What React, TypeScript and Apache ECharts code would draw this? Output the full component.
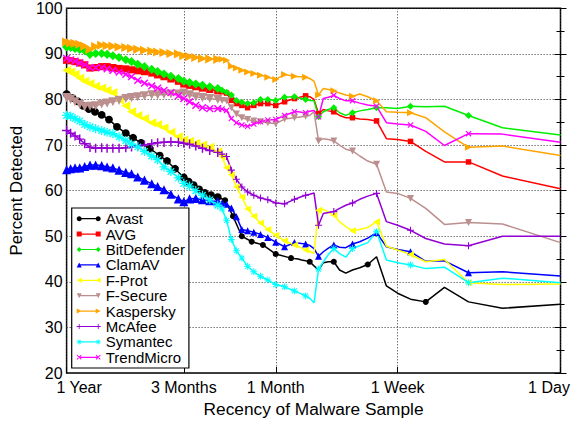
import React, { useEffect, useRef } from "react";
import * as echarts from "echarts";

// ---------- data ----------
const SERIES_NAMES = ["Avast", "AVG", "BitDefender", "ClamAV", "F-Prot", "F-Secure", "Kaspersky", "McAfee", "Symantec", "TrendMicro"];
const X_TICK_LABELS = ["1 Year", "3 Months", "1 Month", "1 Week", "1 Day"];
const X_TICK_DAYS = [365, 90, 30, 7, 1];
const Y_MIN = 20;
const Y_MAX = 100;
const Y_STEP = 10;

// sample age in days (x axis is log of age, most recent on the right)
const DAYS = [
  1, 2, 3, 4, 5, 6, 7, 8, 9, 10, 11, 12,
  13, 14, 15, 16, 17, 18, 19, 20, 21, 22, 23, 24,
  27, 30, 33, 36, 39, 42, 45, 48, 51, 54, 57, 60,
  66, 72, 78, 84, 90, 96,
  105, 114, 123, 132, 144, 156, 168, 180,
  195, 210, 225, 240,
  258, 276, 294, 312, 330, 348,
  365,
];
const AVAST_DAYS = [
  1, 2, 3, 4, 5, 6, 7, 8, 9, 10, 11, 12,
  13, 14, 15, 16, 17, 18, 19, 20, 21, 22, 23, 24, 25,
  30, 35, 40, 45, 50, 55, 60, 65, 70, 75, 80, 85, 90,
  100, 110, 120, 135, 150, 165, 180, 200, 220, 240, 260, 280, 300, 320, 340, 365,
];

const avast = [
  35.1, 34.2, 35.6, 38.8, 35.6, 36.2, 37.5, 39.1, 45.5, 43.8, 43.1, 42.6,
  41.9, 42.6, 44.4, 44.4, 44.2, 42.6, 43.5, 44.4, 44.6, 44.8, 45.0, 45.1, 45.2,
  46.1, 48.1, 48.8, 50.0, 54.4, 57.9, 58.6, 59.0, 59.5, 60.3, 61.2, 62.0, 62.9,
  64.8, 66.5, 67.7, 69.2, 70.5, 71.6, 72.6, 74.0, 75.6, 76.6, 77.3, 77.9, 78.6, 79.6, 80.3, 81.2,
];
const avg = [
  60.4, 63.2, 66.3, 66.3, 68.6, 70.8, 71.2, 71.4, 75.3, 75.6, 75.7, 76.0,
  76.0, 76.5, 77.3, 77.5, 77.8, 76.9, 80.0, 80.6, 80.8, 80.6, 80.4, 80.2,
  79.5, 78.7, 79.1, 79.1, 78.7, 78.2, 78.7, 79.1, 79.8, 81.4, 81.7, 81.9,
  82.2, 82.5, 82.8, 83.1, 83.4, 84.0,
  84.5, 85.0, 85.4, 85.8, 86.1, 86.3, 86.5, 86.7,
  86.8, 87.0, 87.2, 87.2,
  87.0, 86.9, 87.6, 88.0, 88.3, 88.5,
  88.6,
];
const bitDefender = [
  72.2, 73.8, 76.5, 78.5, 78.4, 78.5, 78.0, 78.2, 78.2, 77.8, 77.5, 77.1,
  76.5, 77.1, 78.2, 77.8, 77.3, 76.2, 79.7, 79.8, 80.0, 80.2, 80.4, 80.6,
  80.5, 79.8, 80.0, 80.0, 79.3, 79.1, 79.4, 79.8, 81.0, 81.6, 82.0, 82.4,
  82.8, 83.1, 83.4, 83.7, 84.0, 84.6,
  85.1, 85.6, 86.1, 86.6, 87.2, 87.7, 88.3, 88.7,
  89.2, 89.6, 89.9, 90.1,
  90.1, 89.9, 90.7, 91.0, 91.2, 91.4,
  91.5,
];
const clamAV = [
  41.3, 42.2, 42.0, 44.6, 44.5, 46.6, 47.1, 47.7, 50.8, 49.6, 48.8, 48.3,
  47.5, 47.6, 48.1, 47.4, 46.6, 45.6, 47.3, 48.0, 48.3, 48.4, 48.5, 48.6,
  47.7, 48.7, 49.7, 50.4, 50.9, 51.2, 51.5, 54.3, 56.2, 57.0, 57.3, 57.6,
  57.8, 58.0, 58.3, 58.2, 57.6, 58.2,
  59.2, 60.2, 60.9, 61.5, 62.3, 63.0, 63.7, 64.0,
  64.5, 65.0, 65.2, 65.5,
  65.6, 65.6, 65.3, 65.0, 65.0, 64.8,
  64.6,
];
const fProt = [
  39.5, 39.4, 39.8, 44.9, 44.4, 46.0, 47.0, 47.8, 53.2, 51.9, 51.5, 51.2,
  52.1, 53.2, 54.6, 55.3, 55.9, 55.7, 46.2, 46.7, 47.0, 47.4, 47.8, 48.1,
  49.0, 50.2, 51.5, 52.9, 54.4, 56.0, 58.6, 60.8, 63.5, 65.0, 67.4, 68.5,
  69.5, 70.0, 70.4, 70.8, 71.1, 71.8,
  72.8, 73.8, 74.5, 74.9, 75.8, 76.5, 77.3, 78.6,
  80.0, 81.5, 82.0, 82.5,
  82.9, 83.5, 84.0, 84.7, 85.5, 86.0,
  86.4,
];
const fSecure = [
  48.6, 52.7, 53.0, 52.6, 56.1, 58.3, 59.4, 59.7, 65.8, 66.5, 67.6, 68.7,
  69.1, 70.0, 70.9, 71.2, 71.4, 70.9, 77.3, 76.5, 76.3, 76.2, 76.1, 76.0,
  75.7, 74.7, 74.9, 75.1, 75.3, 75.6, 76.0, 76.8, 78.2, 79.7, 79.8, 80.0,
  80.2, 80.4, 80.6, 81.0, 81.4, 81.2,
  81.2, 81.1, 81.0, 81.0, 80.8, 80.6, 80.4, 80.2,
  79.8, 79.5, 79.2, 79.0,
  78.6, 78.5, 78.4, 78.9, 79.5, 80.0,
  80.4,
];
const kaspersky = [
  67.7, 69.8, 69.5, 72.9, 76.0, 77.1, 77.2, 77.3, 79.7, 80.6, 81.2, 80.7,
  81.0, 81.4, 81.9, 82.2, 82.4, 81.0, 84.0, 84.6, 84.9, 85.0, 85.0, 85.1,
  85.5, 84.4, 84.9, 85.3, 85.7, 86.0, 86.4, 86.9, 87.3, 88.6, 88.8, 88.8,
  88.9, 89.0, 89.2, 89.4, 89.6, 90.0,
  90.1, 90.3, 90.4, 90.6, 90.8, 91.0, 91.2, 91.4,
  91.5, 91.7, 91.8, 91.9,
  91.6, 91.0, 91.7, 92.1, 92.3, 92.4,
  92.6,
];
const mcAfee = [
  50.0, 50.0, 47.9, 48.3, 49.5, 51.3, 52.4, 53.2, 59.4, 58.8, 58.1, 57.3,
  56.8, 56.1, 55.4, 55.2, 55.0, 52.4, 59.5, 59.2, 59.0, 58.7, 58.4, 58.1,
  57.1, 57.3, 58.0, 58.4, 59.0, 59.7, 60.8, 62.5, 64.5, 67.5, 68.0, 68.4,
  68.8, 69.3, 69.8, 70.2, 70.4, 70.6,
  70.7, 70.6, 70.5, 70.3, 70.0, 69.8, 69.6, 69.4,
  69.3, 69.3, 69.3, 69.4,
  69.3, 69.5, 70.3, 71.3, 72.0, 72.6,
  73.2,
];
const symantec = [
  39.8, 40.8, 39.8, 43.2, 42.9, 43.7, 44.2, 44.8, 51.0, 48.6, 47.9, 47.3,
  45.4, 46.2, 47.3, 46.0, 44.4, 42.8, 35.4, 36.4, 36.9, 37.3, 37.7, 38.0,
  38.9, 39.4, 40.4, 41.2, 42.2, 43.4, 45.2, 46.8, 49.3, 53.5, 56.0, 56.8,
  58.0, 59.0, 60.0, 61.0, 61.6, 62.8,
  64.2, 65.2, 66.8, 67.6, 68.6, 69.6, 70.2, 71.0,
  71.8, 72.5, 72.8, 73.2,
  73.6, 74.0, 74.5, 75.3, 75.8, 76.3,
  76.5,
];
const trendMicro = [
  70.6, 72.4, 72.5, 69.9, 73.0, 74.4, 74.6, 74.9, 78.5, 78.8, 79.2, 79.7,
  79.7, 80.2, 80.9, 80.5, 80.2, 76.2, 77.6, 77.4, 77.1, 77.2, 77.3, 77.3,
  76.5, 75.6, 75.5, 75.1, 74.6, 74.1, 74.4, 74.9, 75.8, 77.6, 77.9, 78.0,
  78.0, 78.2, 78.7, 79.5, 80.2, 80.8,
  81.5, 82.0, 82.5, 83.0, 83.6, 84.2, 85.0, 85.5,
  86.0, 86.4, 86.7, 87.0,
  87.0, 87.0, 87.6, 88.0, 88.4, 88.7,
  89.0,
];

const SERIES_VALUES = [avast, avg, bitDefender, clamAV, fProt, fSecure, kaspersky, mcAfee, symantec, trendMicro];
const SERIES_DAYS = [AVAST_DAYS, DAYS, DAYS, DAYS, DAYS, DAYS, DAYS, DAYS, DAYS, DAYS];
const MARKER_STEP = [5, 3, 3, 3, 3, 3, 3, 3, 3, 3];

// ---------- styles ----------
const COLORS = ["#000000", "#ff0000", "#00ee00", "#0000ff", "#ffff00", "#bc8f8f", "#ffa500", "#9400d3", "#00ffff", "#ff00ff"];
const SHAPE_OF = ["circle", "square", "diamond", "triUp", "triLeft", "triDown", "triRight", "plus", "star", "cross"];
const SIZE_OF = [6, 5.5, 7, 7, 7, 7, 7, 7, 7, 6];

type Pt = [number, number];
function bar(x1: number, y1: number, x2: number, y2: number, t: number): Pt[] {
  const dx = x2 - x1, dy = y2 - y1, L = Math.hypot(dx, dy);
  const nx = (-dy / L) * t, ny = (dx / L) * t;
  return [[x1 + nx, y1 + ny], [x2 + nx, y2 + ny], [x2 - nx, y2 - ny], [x1 - nx, y1 - ny]];
}
function cw(pts: Pt[]): Pt[] {
  let a = 0;
  for (let i = 0; i < pts.length; i++) {
    const p = pts[i], q = pts[(i + 1) % pts.length];
    a += p[0] * q[1] - q[0] * p[1];
  }
  return a < 0 ? pts.slice().reverse() : pts;
}
const SHAPES: Record<string, Pt[][]> = {
  circle: [Array.from({ length: 16 }, (_, k) => {
    const a = -Math.PI / 2 + (k * Math.PI) / 8;
    return [Math.cos(a), Math.sin(a)] as Pt;
  })],
  square: [[[-1, -1], [1, -1], [1, 1], [-1, 1]]],
  diamond: [[[0, -1], [1, 0], [0, 1], [-1, 0]]],
  triUp: [[[0, -1], [1, 1], [-1, 1]]],
  triDown: [[[-1, -1], [1, -1], [0, 1]]],
  triLeft: [[[1, -1], [1, 1], [-1, 0]]],
  triRight: [[[-1, -1], [1, 0], [-1, 1]]],
  plus: [bar(-1, 0, 1, 0, 0.16), bar(0, -1, 0, 1, 0.16)],
  cross: [bar(-0.85, -0.85, 0.85, 0.85, 0.19), bar(-0.85, 0.85, 0.85, -0.85, 0.19)],
  star: [bar(-1, 0, 1, 0, 0.14), bar(0, -1, 0, 1, 0.14), bar(-0.72, -0.72, 0.72, 0.72, 0.14), bar(-0.72, 0.72, 0.72, -0.72, 0.14)],
};
function polysToPath(polys: Pt[][], cx: number, cy: number, r: number): string {
  return polys
    .map((p) =>
      cw(p)
        .map(([x, y], i) => `${i ? "L" : "M"}${(cx + x * r).toFixed(3)},${(cy + y * r).toFixed(3)}`)
        .join(" ") + " Z"
    )
    .join(" ");
}
function symbolPath(shape: string): string {
  return "path://" + polysToPath(SHAPES[shape], 5, 5, 5);
}
function legendIconPath(shape: string): string {
  const line: Pt[] = [[2.5, 1.9], [21.5, 1.9], [21.5, 3.1], [2.5, 3.1]];
  return (
    "path://" +
    polysToPath([line], 0, 0, 1) + " " +
    polysToPath(SHAPES[shape], 2.5, 2.5, 2.5) + " " +
    polysToPath(SHAPES[shape], 21.5, 2.5, 2.5)
  );
}

const FONT = "'Liberation Sans', Arial, Helvetica, sans-serif";

export default function App() {
  const ref = useRef<HTMLDivElement>(null);
  useEffect(() => {
    if (!ref.current) return;
    const chart = echarts.init(ref.current, undefined, { renderer: "svg" });
    const tickVals = X_TICK_DAYS.map((d) => Math.log10(d));
    const xMax = Math.log10(X_TICK_DAYS[0]);

    const series = SERIES_NAMES.map((name, si) => {
      const sym = symbolPath(SHAPE_OF[si]);
      const days = SERIES_DAYS[si];
      const vals = SERIES_VALUES[si];
      return {
        name,
        type: "line",
        symbol: sym,
        symbolSize: SIZE_OF[si],
        showSymbol: true,
        color: COLORS[si],
        itemStyle: { color: COLORS[si], borderWidth: 0 },
        lineStyle: { color: COLORS[si], width: 1.5 },
        emphasis: { disabled: true },
        data: days.map((d, i) => ({
          value: [Math.log10(d), vals[i]],
          symbol: d % MARKER_STEP[si] === 0 || d > 24 ? sym : "none",
          symbolSize: d >= 60 ? SIZE_OF[si] * 1.3 : SIZE_OF[si],
        })),
      };
    });

    const option = {
      animation: false,
      backgroundColor: "#ffffff",
      textStyle: { fontFamily: FONT, color: "#000" },
      grid: {
        left: 62.5,
        right: 13.5,
        top: 8.3,
        bottom: 55,
        show: true,
        borderColor: "#000",
        borderWidth: 1.5,
        backgroundColor: "transparent",
      },
      xAxis: {
        type: "value",
        min: 0,
        max: xMax,
        inverse: true,
        name: "Recency of Malware Sample",
        nameLocation: "middle",
        nameGap: 27,
        nameTextStyle: { fontSize: 17.3, color: "#000", fontFamily: FONT },
        axisLine: { show: false },
        axisTick: { show: true, inside: true, length: 6, customValues: tickVals, lineStyle: { color: "#000" } },
        axisLabel: {
          customValues: tickVals,
          showMinLabel: true,
          showMaxLabel: true,
          margin: 6,
          fontSize: 16,
          color: "#000",
          fontFamily: FONT,
          formatter: (v: number) => {
            const i = tickVals.findIndex((t) => Math.abs(t - v) < 1e-6);
            if (i < 0) return "";
            const lab = X_TICK_LABELS[i];
            if (i === 0) return `{l|${lab}}`;
            if (i === X_TICK_LABELS.length - 1) return `{r|${lab}}`;
            return lab;
          },
          rich: {
            l: { padding: [0, 0, 0, 25], fontSize: 16, color: "#000", fontFamily: FONT },
            r: { padding: [0, 23, 0, 0], fontSize: 16, color: "#000", fontFamily: FONT },
          },
        },
        splitLine: { show: true, lineStyle: { type: [1, 2], color: "#333", width: 1 } },
      },
      yAxis: [
        {
          type: "value",
          min: Y_MIN,
          max: Y_MAX,
          interval: Y_STEP,
          position: "left",
          name: "Percent Detected",
          nameLocation: "middle",
          nameGap: 28,
          nameTextStyle: { fontSize: 16.8, color: "#000", fontFamily: FONT },
          axisLine: { show: false },
          axisTick: { show: true, inside: true, length: 6, lineStyle: { color: "#000" } },
          minorTick: { show: true, splitNumber: 2, length: 4, lineStyle: { color: "#000" } },
          axisLabel: { fontSize: 16, color: "#000", margin: 4, fontFamily: FONT },
          splitLine: { show: true, lineStyle: { type: [1, 2], color: "#333", width: 1 } },
        },
        {
          type: "value",
          min: Y_MIN,
          max: Y_MAX,
          interval: Y_STEP,
          position: "right",
          axisLine: { show: false },
          axisTick: { show: true, inside: true, length: 6, lineStyle: { color: "#000" } },
          minorTick: { show: true, splitNumber: 2, length: 4, lineStyle: { color: "#000" } },
          axisLabel: { show: false },
          splitLine: { show: false },
        },
      ],
      legend: {
        orient: "vertical",
        left: 71.7,
        top: 208,
        itemWidth: 24,
        itemHeight: 5,
        itemGap: 0,
        itemTextGap: 4,
        padding: [3, 4, 3, 5],
        borderColor: "#000",
        borderWidth: 1.2,
        borderRadius: 0,
        backgroundColor: "#ffffff",
        selectedMode: false,
        textStyle: { fontSize: 15, color: "#000", lineHeight: 15.4, fontFamily: FONT },
        data: SERIES_NAMES.map((name, si) => ({ name, icon: legendIconPath(SHAPE_OF[si]) })),
      },
      series,
    };
    chart.setOption(option as any);
    return () => chart.dispose();
  }, []);
  return (
    <div
      ref={ref}
      style={{ position: "absolute", left: 0, top: 0, width: 574, height: 428, background: "#fff" }}
    />
  );
}
